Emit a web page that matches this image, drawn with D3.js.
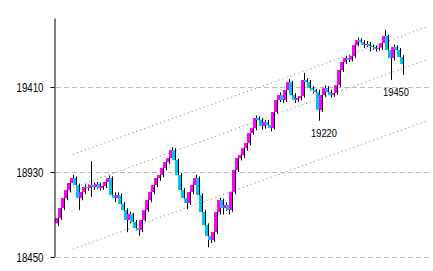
<!DOCTYPE html>
<html>
<head>
<meta charset="utf-8">
<script src="https://cdn.jsdelivr.net/npm/d3@7"></script>
<style>
  body { margin: 0; background: #fff; }
  svg { display: block; }
  .tickLabel { font-family: "Liberation Sans", Arial, sans-serif; font-size: 12.5px; fill: #000; }
  .note { font-family: "Liberation Sans", Arial, sans-serif; font-size: 10.5px; fill: #000; }
</style>
</head>
<body>
<svg id="chart" width="433" height="271"></svg>
<script>
const opens = [18640,18670,18727,18783,18828,18868,18896,18857,18783,18817,18845,18840,18857,18845,18862,18840,
  18851,18874,18896,18800,18783,18800,18749,18715,18659,18693,18648,18614,18602,18659,18715,18772,
  18817,18857,18896,18913,18953,18986,19009,19054,18998,18913,18828,18783,18755,18817,18857,18896,
  18800,18704,18631,18569,18546,18591,18704,18772,18727,18744,18715,18817,18941,19009,19026,19065,
  19094,19150,19178,19235,19224,19190,19212,19195,19178,19269,19337,19365,19337,19393,19438,19365,
  19337,19348,19359,19450,19438,19404,19393,19382,19280,19365,19404,19382,19365,19376,19421,19506,
  19551,19574,19565,19585,19647,19675,19664,19647,19653,19641,19636,19625,19633,19658,19698,19619,
  19574,19636,19619,19579];
const closes = [18670,18727,18783,18828,18868,18896,18857,18783,18817,18845,18840,18857,18845,18862,18840,18851,
  18874,18896,18800,18783,18800,18749,18715,18659,18693,18648,18614,18602,18659,18715,18772,18817,
  18857,18896,18913,18953,18986,19009,19054,18998,18913,18828,18783,18755,18817,18857,18896,18800,
  18704,18631,18569,18546,18591,18704,18772,18727,18744,18715,18817,18941,19009,19026,19065,19094,
  19150,19178,19235,19224,19190,19212,19195,19178,19269,19337,19365,19337,19393,19438,19365,19337,
  19348,19359,19450,19438,19404,19393,19382,19280,19365,19404,19382,19365,19376,19421,19506,19551,
  19574,19565,19585,19647,19675,19664,19647,19653,19641,19636,19625,19633,19658,19698,19619,19574,
  19636,19619,19579,19540];
const highs = [18685,18740,18795,18840,18880,18915,18905,18865,18830,18860,18860,18990,18870,18875,18870,18865,
  18885,18910,18905,18815,18815,18810,18760,18725,18705,18700,18660,18625,18670,18725,18785,18830,
  18870,18910,18930,18965,19000,19025,19070,19065,19005,18925,18840,18795,18830,18870,18915,18905,
  18810,18715,18640,18580,18605,18715,18785,18780,18760,18755,18830,18955,19020,19040,19080,19110,
  19165,19190,19250,19245,19235,19225,19225,19205,19280,19350,19380,19375,19405,19455,19445,19375,
  19360,19375,19490,19460,19450,19415,19400,19395,19380,19420,19415,19395,19390,19435,19520,19565,
  19585,19590,19600,19660,19690,19685,19675,19670,19665,19650,19645,19645,19670,19732,19705,19630,
  19650,19645,19630,19590];
const lows = [18625,18660,18715,18770,18815,18855,18840,18715,18770,18805,18825,18790,18830,18835,18825,18830,
  18840,18865,18785,18760,18770,18735,18700,18590,18640,18630,18600,18570,18590,18650,18705,18760,
  18805,18845,18880,18900,18940,18975,19000,18985,18900,18815,18770,18720,18745,18805,18845,18790,
  18690,18615,18505,18530,18535,18580,18690,18690,18710,18690,18705,18805,18930,18995,19010,19050,
  19080,19140,19165,19200,19170,19175,19180,19160,19170,19260,19325,19320,19325,19385,19350,19320,
  19325,19335,19350,19420,19390,19375,19365,19220,19270,19355,19365,19350,19355,19365,19410,19495,
  19540,19550,19555,19575,19640,19650,19630,19635,19610,19620,19610,19615,19620,19645,19605,19450,
  19560,19600,19565,19478];

const tickValues = [18450, 18930, 19410];
// trend channel: [startIndex, startValue, endIndex, endValue]
const trendLines = [
  [6, 19030, 124, 19750],
  [6, 18840, 124, 19565],
  [6, 18495, 124, 19220],
];
// labelled lows: candle index and text
const notes = [
  [87, "19220"],
  [111, "19450"],
];

const UP = "#ff00ff";
const DOWN = "#00c4f4";

function draw() {
  const svg = d3.select("#chart");
  const n = closes.length;

  const x = d3.scaleLinear().domain([0, n - 1]).range([55, 400]);
  const y = d3.scaleLinear().domain([18450, 19800]).range([257, 18]);

  // dashed gridlines
  svg.append("g")
    .selectAll("line")
    .data(tickValues)
    .join("line")
    .attr("x1", 56)
    .attr("x2", 429)
    .attr("y1", (d) => Math.round(y(d)) + 0.5)
    .attr("y2", (d) => Math.round(y(d)) + 0.5)
    .attr("stroke", "#bdbdbd")
    .attr("stroke-dasharray", "5,3");

  // dotted trend lines
  svg.append("g")
    .selectAll("line")
    .data(trendLines)
    .join("line")
    .attr("x1", (d) => x(d[0]))
    .attr("y1", (d) => y(d[1]))
    .attr("x2", (d) => x(d[2]))
    .attr("y2", (d) => y(d[3]))
    .attr("stroke", "#8c8c8c")
    .attr("stroke-width", 1)
    .attr("stroke-dasharray", "1.2,3");

  const idx = d3.range(n);

  // wicks drawn first, on the right edge, so the next body can cover them
  svg.append("g")
    .selectAll("line")
    .data(idx)
    .join("line")
    .attr("x1", (i) => Math.round(x(i)) + 3.5)
    .attr("x2", (i) => Math.round(x(i)) + 3.5)
    .attr("y1", (i) => y(highs[i]))
    .attr("y2", (i) => y(lows[i]))
    .attr("stroke", "#000")
    .attr("stroke-width", 1);

  svg.append("g")
    .selectAll("rect")
    .data(idx)
    .join("rect")
    .attr("x", (i) => Math.round(x(i)))
    .attr("width", 3)
    .attr("y", (i) => y(Math.max(opens[i], closes[i])))
    .attr("height", (i) => Math.max(1, Math.abs(y(opens[i]) - y(closes[i]))))
    .attr("fill", (i) => (closes[i] >= opens[i] ? UP : DOWN));

  // left axis
  const axis = d3.axisLeft(y)
    .tickValues(tickValues)
    .tickSizeInner(4)
    .tickSizeOuter(0)
    .tickPadding(7)
    .tickFormat(d3.format("d"));
  const g = svg.append("g")
    .attr("transform", "translate(54.5,0)")
    .call(axis);
  g.select(".domain").attr("stroke", "#000");
  g.selectAll(".tick line").attr("stroke", "#000");
  g.selectAll(".tick text")
    .attr("class", "tickLabel")
    .attr("dy", "0.36em")
    .attr("textLength", 27)
    .attr("lengthAdjust", "spacingAndGlyphs");
  g.attr("font-family", null).attr("font-size", null);

  svg.append("g")
    .selectAll("text")
    .data(notes)
    .join("text")
    .attr("class", "note")
    .attr("x", (d) => Math.round(x(d[0])) - 5)
    .attr("y", (d) => y(lows[d[0]]) + 16)
    .attr("textLength", 26)
    .attr("lengthAdjust", "spacingAndGlyphs")
    .text((d) => d[1]);
}

window.onload = draw;
</script>
</body>
</html>
